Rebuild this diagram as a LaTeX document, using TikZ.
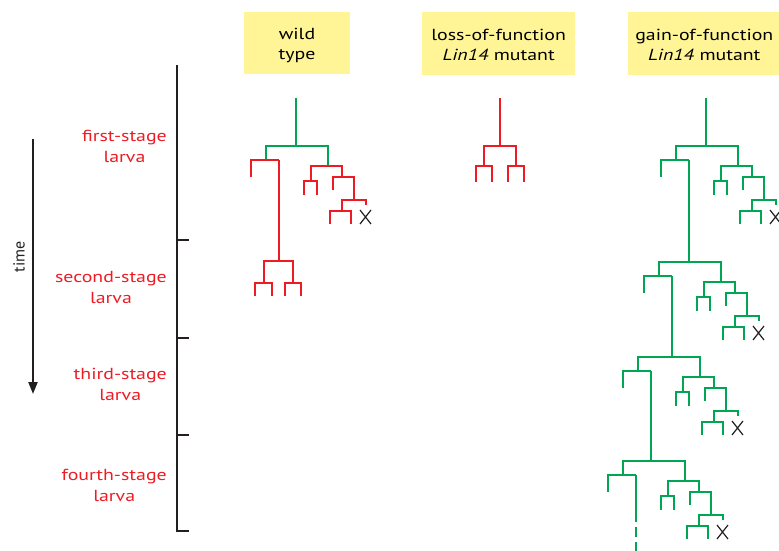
\documentclass[tikz,border=0pt]{standalone}
\usepackage{fontspec}
\setmainfont{PT Sans}[FakeStretch=1.24]
\newfontfamily\plainfont{PT Sans}
\usetikzlibrary{arrows.meta}
\definecolor{lred}{RGB}{237,28,36}
\definecolor{lgreen}{RGB}{0,166,81}
\definecolor{lyellow}{RGB}{255,245,150}
\definecolor{axisgray}{RGB}{35,31,32}
\newcommand\lunit[4]{%
\begin{scope}[shift={(#1,#2)}]
\draw[treeline,#3] (0,14) -- (0,0) -- (62,0) -- (62,20);
\draw[treeline,#4] (-15,31) -- (-15,14) -- (13,14);
\draw[treeline,#4] (45,35) -- (45,20) -- (76,20) -- (76,31);
\draw[treeline,#4] (38,49) -- (38,35) -- (51,35) -- (51,49);
\draw[treeline,#4] (67,44) -- (67,31) -- (88,31) -- (88,54);
\draw[treeline,#4] (76,65) -- (76,54) -- (100,54) -- (100,59);
\draw[treeline,#4] (64,78) -- (64,65) -- (85,65) -- (85,78);
\draw[deathx] (94,64) -- (105,78) (94,78) -- (105,64);
\end{scope}}
\begin{document}
\begin{tikzpicture}[x=1pt,y=-1pt,
  treeline/.style={line width=2pt},
  deathx/.style={line width=1.2pt,axisgray},
  titlebox/.style={fill=lyellow,inner sep=0pt,align=center,font=\fontsize{16}{20}\selectfont},
  stagelabel/.style={text=lred,anchor=east,align=center,inner sep=0pt,font=\fontsize{16}{21}\selectfont},
  axisline/.style={line width=1.4pt,axisgray}]
\useasboundingbox (0,0) rectangle (779,551);
% titles
\node[titlebox,minimum width=106pt,minimum height=62.6pt] (wt) at (297,43) {};
\node[align=center,inner sep=0pt,font=\fontsize{16}{20}\selectfont] (wtt) at (297,45) {wild\\type};
\node[titlebox,minimum width=152.7pt,minimum height=63.3pt] (lf) at (498.65,43.35) {};
\node[align=center,inner sep=0pt,font=\fontsize{16}{20}\selectfont] (lft) at (498.65,45) {loss-of-function\\\textit{Lin14} mutant};
\node[titlebox,minimum width=150.7pt,minimum height=63.3pt] (gf) at (703.65,43.35) {};
\node[align=center,inner sep=0pt,font=\fontsize{16}{20}\selectfont] (gft) at (704.3,45) {gain-of-function\\\textit{Lin14} mutant};
% axis
\coordinate (atop) at (177,65);
\coordinate (abot) at (177,531);
\draw[axisline] (atop) -- (abot) -- ++(12,0);
\coordinate (t1) at (177,240);
\coordinate (t2) at (177,338);
\coordinate (t3) at (177,435);
\draw[axisline] (t1) -- ++(12,0);
\draw[axisline] (t2) -- ++(12,0);
\draw[axisline] (t3) -- ++(12,0);
% stage labels
\node[stagelabel] (s1) at (167,146) {first-stage\\larva};
\node[stagelabel] (s2) at (167,287) {second-stage\\larva};
\node[stagelabel] (s3) at (167,384) {third-stage\\larva};
\node[stagelabel] (s4) at (167,485) {fourth-stage\\larva};
% time arrow
\coordinate (tstart) at (33,139);
\coordinate (tend) at (33,394);
\draw[line width=2.2pt,axisgray,-{Triangle[length=12pt,width=9pt]}] (tstart) -- (tend);
\node[rotate=90,font=\plainfont\fontsize{16}{20}\selectfont,axisgray] (time) at (19,257) {time};
% wild type
\draw[treeline,lgreen] (296,98) -- (296,146);
\lunit{266}{146}{lgreen}{lred}
\draw[treeline,lred] (279,160) -- (279,261);
\draw[treeline,lred] (272,296) -- (272,283) -- (255,283) -- (255,296);
\draw[treeline,lred] (264,283) -- (264,261) -- (293,261) -- (293,283);
\draw[treeline,lred] (301,296) -- (301,283) -- (285,283) -- (285,296);
% loss of function
\draw[treeline,lred] (500,98) -- (500,146);
\draw[treeline,lred] (484,166) -- (484,146) -- (516,146) -- (516,166);
\draw[treeline,lred] (476,182) -- (476,166) -- (492,166) -- (492,182);
\draw[treeline,lred] (508,182) -- (508,166) -- (524,166) -- (524,182);
% gain of function
\draw[treeline,lgreen] (706,98) -- (706,146);
\lunit{676}{146}{lgreen}{lgreen}
\draw[treeline,lgreen] (689,160) -- (689,262);
\lunit{659}{262}{lgreen}{lgreen}
\draw[treeline,lgreen] (672,276) -- (672,357);
\lunit{638}{357}{lgreen}{lgreen}
\draw[treeline,lgreen] (651,371) -- (651,461);
\lunit{623}{461}{lgreen}{lgreen}
\draw[treeline,lgreen] (636,475) -- (636,522);
\draw[treeline,lgreen] (636,527) -- (636,537);
\draw[treeline,lgreen] (636,542) -- (636,551);
\end{tikzpicture}
\end{document}
